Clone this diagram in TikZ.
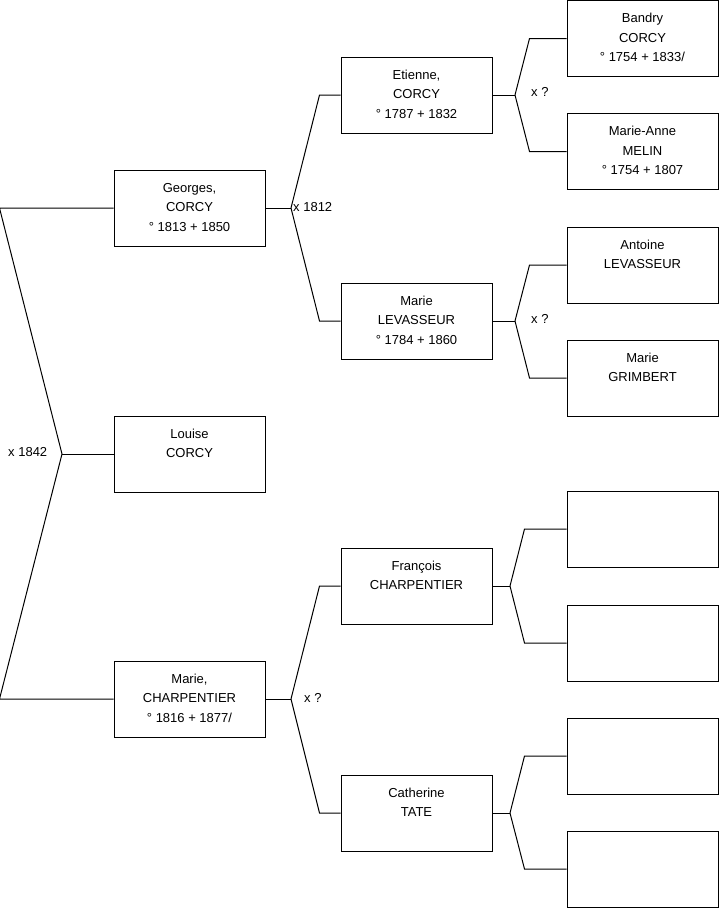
\documentclass[tikz,border=0pt]{standalone}
\usepackage{fontspec}
\setmainfont{Liberation Sans}
\newcommand\lstr{\rule[-6.1pt]{0pt}{19.5pt}}
\begin{document}
\begin{tikzpicture}[x=1pt,y=-1pt,
  box/.style={draw, line width=1pt, minimum width=151pt, minimum height=76pt, inner sep=0pt, align=center, font=\fontsize{13}{19.5}\selectfont},
  conn/.style={line width=1pt},
  lbl/.style={anchor=west, inner sep=0pt, font=\fontsize{13}{15}\selectfont}]
\useasboundingbox (0,0) rectangle (719,908);
% column 1
\node[box] (geo) at (189.5,208) {\lstr Georges,\\\lstr CORCY\\\lstr ° 1813 + 1850};
\node[box] (lou) at (189.5,454) {\lstr Louise\\\lstr CORCY\\\lstr};
\node[box] (mch) at (189.5,699) {\lstr Marie,\\\lstr CHARPENTIER\\\lstr ° 1816 + 1877/};
% column 2
\node[box] (eti) at (416.5,95) {\lstr Etienne,\\\lstr CORCY\\\lstr ° 1787 + 1832};
\node[box] (mlv) at (416.5,321) {\lstr Marie\\\lstr LEVASSEUR\\\lstr ° 1784 + 1860};
\node[box] (fra) at (416.5,586) {\lstr François\\\lstr CHARPENTIER\\\lstr};
\node[box] (cat) at (416.5,813) {\lstr Catherine\\\lstr TATE\\\lstr};
% column 3
\node[box] (ban) at (642.5,38.5) {\lstr Bandry\\\lstr CORCY\\\lstr ° 1754 + 1833/};
\node[box] (man) at (642.5,151.5) {\lstr Marie-Anne\\\lstr MELIN\\\lstr ° 1754 + 1807};
\node[box] (ant) at (642.5,265) {\lstr Antoine\\\lstr LEVASSEUR\\\lstr};
\node[box] (gri) at (642.5,378) {\lstr Marie\\\lstr GRIMBERT\\\lstr};
\node[box] (e1) at (642.5,529) {};
\node[box] (e2) at (642.5,643) {};
\node[box] (e3) at (642.5,756) {};
\node[box] (e4) at (642.5,869) {};
% vertices
\coordinate (v0) at (62,454);
\coordinate (v1) at (291,208);
\coordinate (v2) at (515,95);
\coordinate (v3) at (515,321);
\coordinate (v4) at (291,699);
\coordinate (v5) at (510,586);
\coordinate (v6) at (510,813);
% connectors
\draw[conn] (geo.west) -- ([xshift=-114pt]geo.west) -- (v0) -- ([xshift=-114pt]mch.west) -- (mch.west);
\draw[conn] (v0) -- (lou.west);
\draw[conn] (geo.east) -- (v1);
\draw[conn] (v1) -- ([xshift=-21pt]eti.west) -- (eti.west);
\draw[conn] (v1) -- ([xshift=-21pt]mlv.west) -- (mlv.west);
\draw[conn] (eti.east) -- (v2);
\draw[conn] (v2) -- ([xshift=-37pt]ban.west) -- (ban.west);
\draw[conn] (v2) -- ([xshift=-37pt]man.west) -- (man.west);
\draw[conn] (mlv.east) -- (v3);
\draw[conn] (v3) -- ([xshift=-37pt]ant.west) -- (ant.west);
\draw[conn] (v3) -- ([xshift=-37pt]gri.west) -- (gri.west);
\draw[conn] (mch.east) -- (v4);
\draw[conn] (v4) -- ([xshift=-21pt]fra.west) -- (fra.west);
\draw[conn] (v4) -- ([xshift=-21pt]cat.west) -- (cat.west);
\draw[conn] (fra.east) -- (v5);
\draw[conn] (v5) -- ([xshift=-42pt]e1.west) -- (e1.west);
\draw[conn] (v5) -- ([xshift=-42pt]e2.west) -- (e2.west);
\draw[conn] (cat.east) -- (v6);
\draw[conn] (v6) -- ([xshift=-42pt]e3.west) -- (e3.west);
\draw[conn] (v6) -- ([xshift=-42pt]e4.west) -- (e4.west);
% labels
\node[lbl] (l0) at (8,452) {x 1842};
\node[lbl] (l1) at (293,207) {x 1812};
\node[lbl] (l2) at (531,92) {x ?};
\node[lbl] (l3) at (531,319) {x ?};
\node[lbl] (l4) at (304,698) {x ?};
\end{tikzpicture}
\end{document}
